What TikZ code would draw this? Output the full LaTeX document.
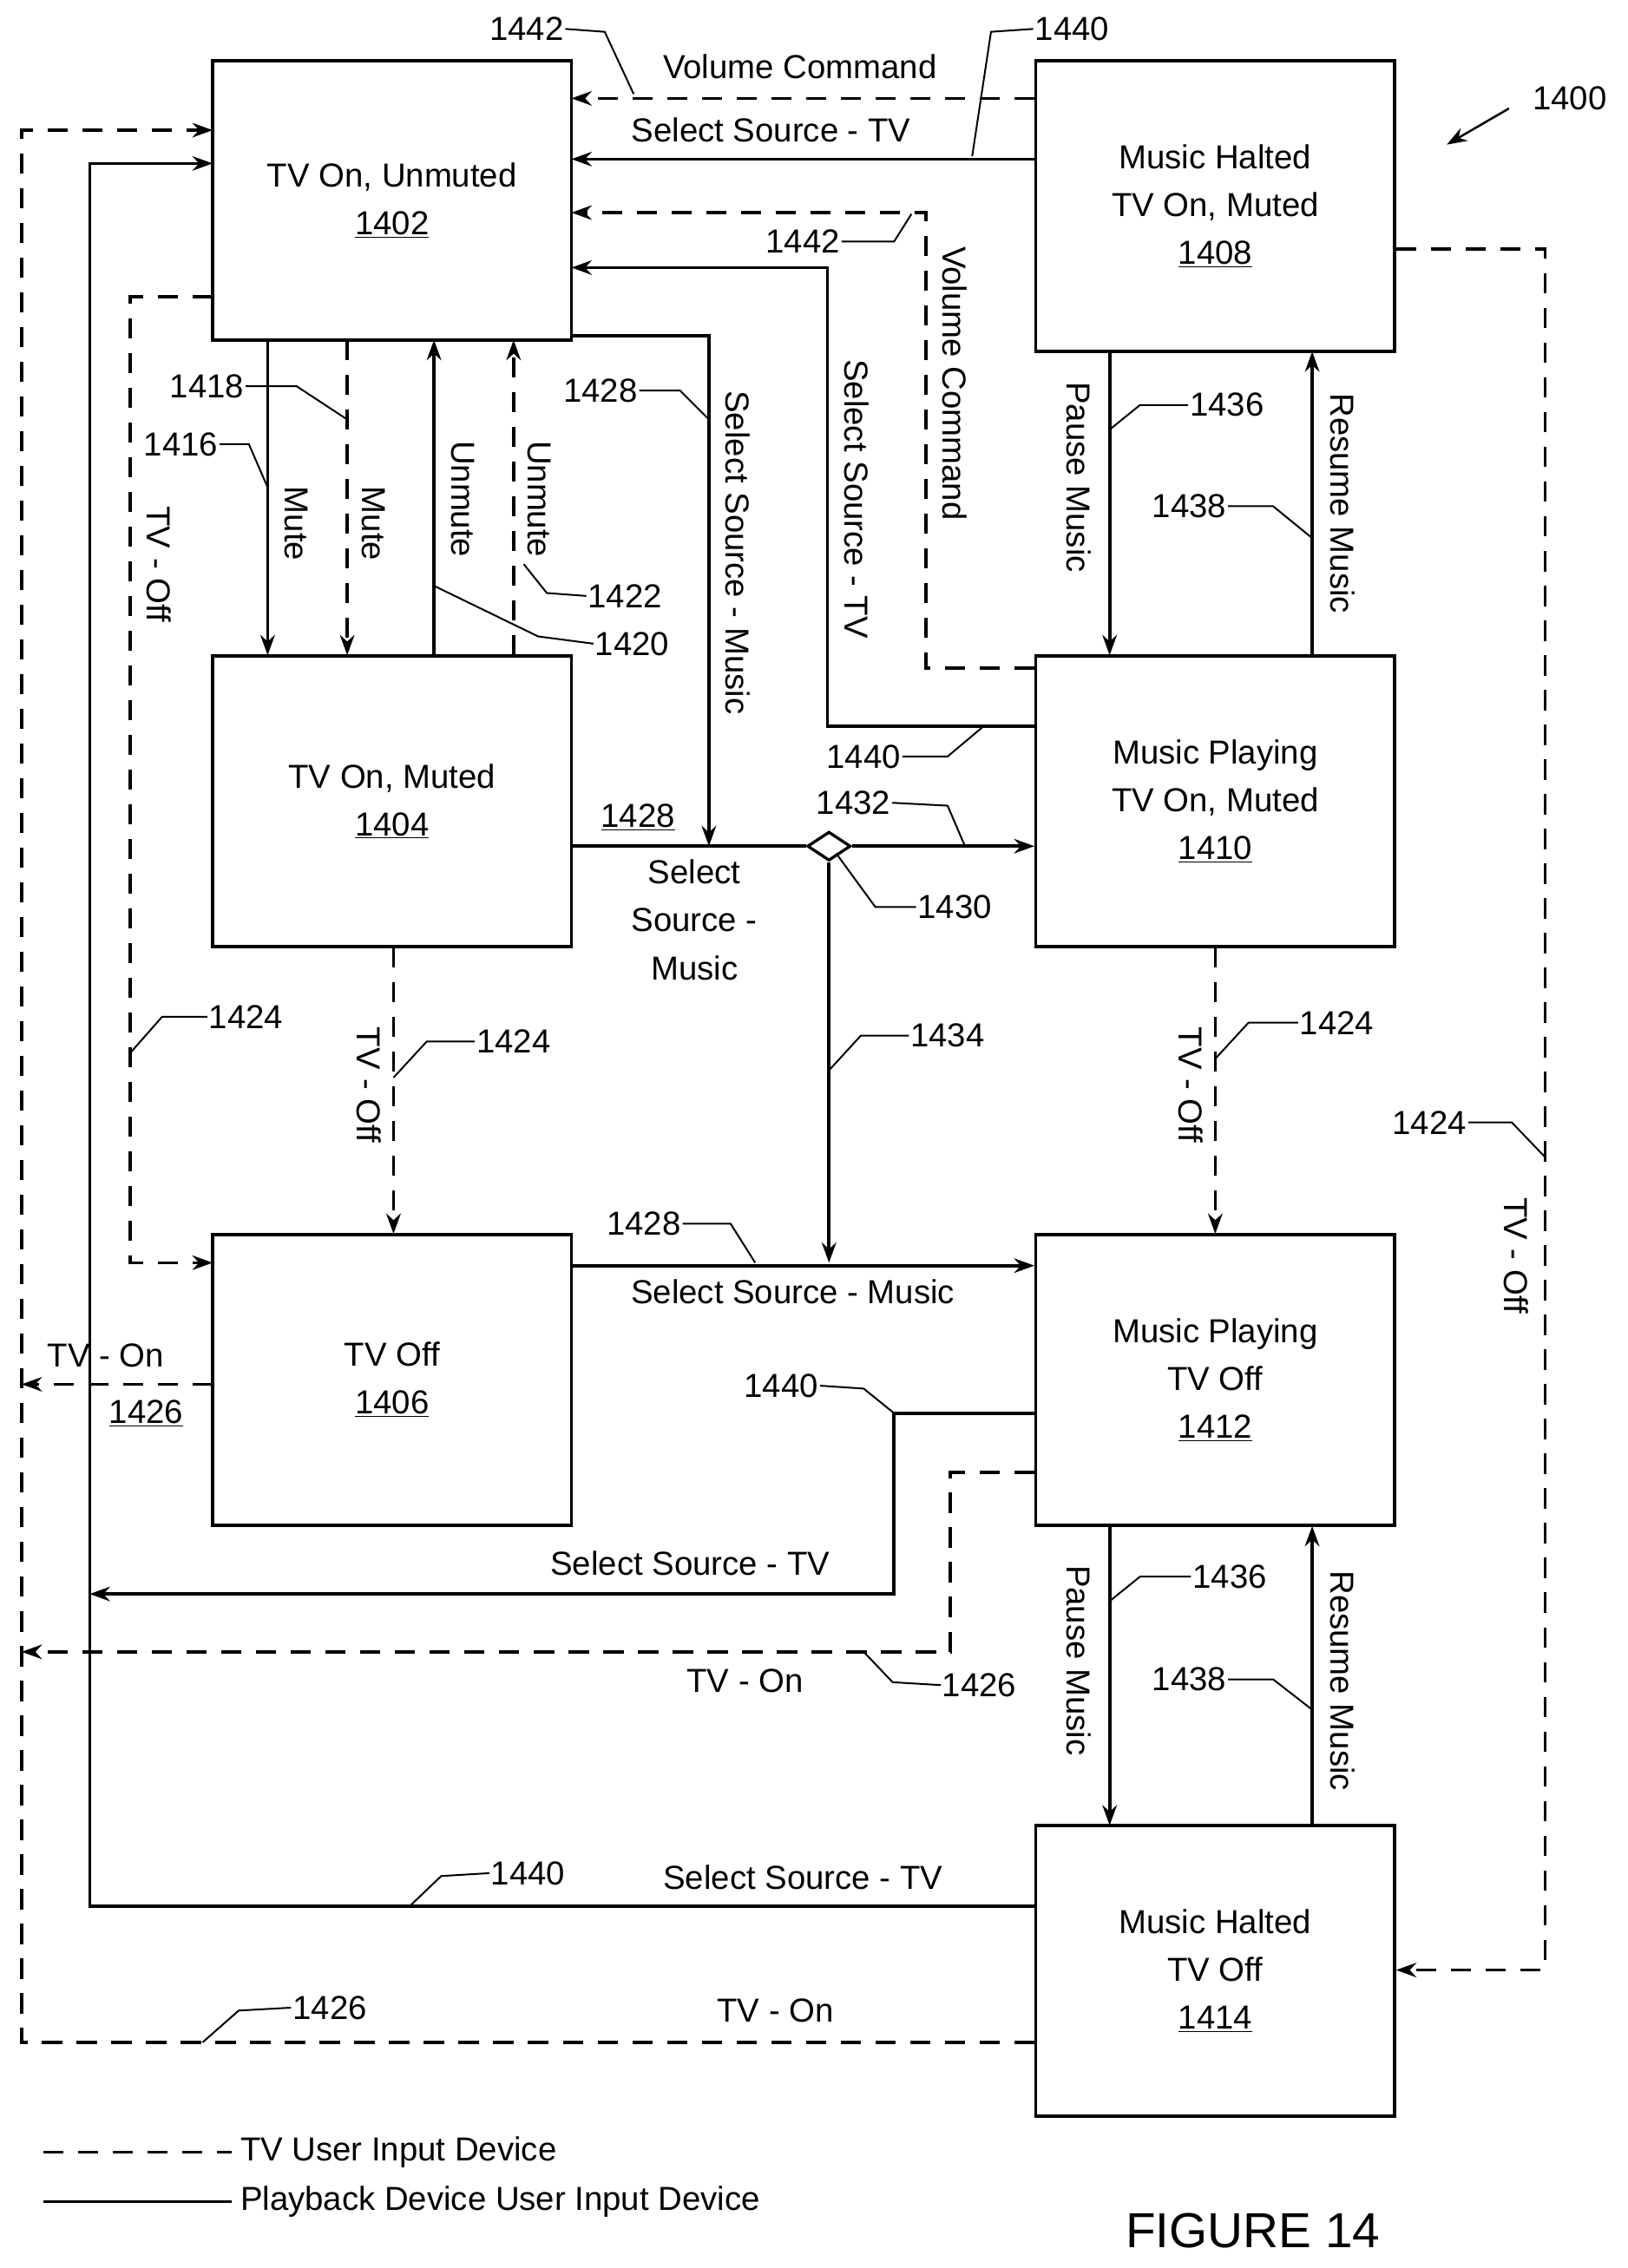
\documentclass[tikz,border=0pt]{standalone}
\usepackage{fontspec}
\setmainfont{Liberation Sans}
\usetikzlibrary{arrows.meta,shapes.geometric}
\begin{document}
\begin{tikzpicture}[x=1pt,y=-1pt,
 box/.style={draw,line width=2.2pt,minimum width=248pt,minimum height=201pt,inner sep=0,align=center,font=\fontsize{23}{33}\selectfont},
 sol/.style={line width=2.2pt,-{Stealth[length=14pt,width=10pt]}},
 so/.style={line width=2.2pt},
 das/.style={line width=2.2pt,dash pattern=on 14pt off 10pt,-{Stealth[length=14pt,width=10pt]}},
 da/.style={line width=2.2pt,dash pattern=on 14pt off 10pt},
 lead/.style={line width=1.2pt},
 t/.style={font=\fontsize{23}{27}\selectfont,inner sep=1pt},
 r/.style={font=\fontsize{23}{27}\selectfont,inner sep=1pt,rotate=-90},
 every node/.append style={font=\fontsize{23}{27}\selectfont}]
\useasboundingbox (0,0) rectangle (1125,1568);
\node[box,minimum height=193pt] (b1402) at (271,138.5) {TV On, Unmuted\\\underline{1402}};
\node[box] (b1408) at (840,142.5) {Music Halted\\TV On, Muted\\\underline{1408}};
\node[box] (b1404) at (271,554) {TV On, Muted\\\underline{1404}};
\node[box] (b1410) at (840,554) {Music Playing\\TV On, Muted\\\underline{1410}};
\node[box] (b1406) at (271,954) {TV Off\\\underline{1406}};
\node[box] (b1412) at (840,954) {Music Playing\\TV Off\\\underline{1412}};
\node[box] (b1414) at (840,1362.5) {Music Halted\\TV Off\\\underline{1414}};
% top connectors
\draw[das] (715,68) -- (395,68);
\node[t] at (553,46) {Volume Command};
\draw[sol] (715,110) -- (395,110);
\node[t] at (533,90) {Select Source - TV};
\draw[das] (715,462) -- (640,462) -- (640,147) -- (395,147);
\node[r] at (660,265) {Volume Command};
\draw[sol] (715,502) -- (572,502) -- (572,185) -- (395,185);
\node[r] at (592,345) {Select Source - TV};
\draw[sol] (395,232) -- (490,232) -- (490,585);
\node[r] at (510,382) {Select Source - Music};
% diamond
\node[draw,line width=2pt,diamond,shape aspect=1.6,minimum width=30pt,minimum height=20pt,inner sep=0] (dia) at (573,585) {};
\draw[so] (395,585) -- (dia.west);
\draw[sol] (dia.east) -- (715,585);
\draw[sol] (dia.south) -- (573,873);
\node[t] at (441,565) {\underline{1428}};
\node[t,align=center,font=\fontsize{23}{33}\selectfont] at (480,636) {Select\\Source -\\Music};
\draw[sol] (395,875) -- (715,875);
\node[t] at (548,893) {Select Source - Music};
% mute/unmute
\draw[sol] (185,235) -- (185,453); \node[r] at (205,362) {Mute};
\draw[das] (240,235) -- (240,453); \node[r] at (258,362) {Mute};
\draw[sol] (300,453) -- (300,235); \node[r] at (320,345) {Unmute};
\draw[das] (355,453) -- (355,235); \node[r] at (373,345) {Unmute};
% pause/resume
\draw[sol] (767,243) -- (767,453); \node[r] at (746,330) {Pause Music};
\draw[sol] (907,453) -- (907,243); \node[r] at (928,348) {Resume Music};
\draw[sol] (767,1055) -- (767,1262); \node[r] at (746,1148) {Pause Music};
\draw[sol] (907,1262) -- (907,1055); \node[r] at (928,1162) {Resume Music};
% TV off
\draw[das] (272,655) -- (272,853); \node[r] at (255,750) {TV - Off};
\draw[das] (840,655) -- (840,853); \node[r] at (823,750) {TV - Off};
\draw[das] (147,205) -- (90,205) -- (90,873) -- (147,873); \node[r] at (110,390) {TV - Off};
\draw[das] (965,172) -- (1068,172) -- (1068,1362) -- (965,1362); \node[r] at (1048,868) {TV - Off};
% TV on
\draw[das] (147,957) -- (15,957);
\node[t,fill=white] at (73,937) {TV - On};
\node[t] at (101,977) {\underline{1426}};
\draw[das] (715,1412) -- (15,1412) -- (15,90) -- (147,90);
\node[t] at (536,1390) {TV - On};
\draw[sol] (715,1318) -- (62,1318) -- (62,113) -- (147,113);
\node[t] at (555,1298) {Select Source - TV};
\draw[sol] (715,977) -- (618,977) -- (618,1102) -- (62,1102);
\node[t] at (477,1081) {Select Source - TV};
\draw[das] (715,1018) -- (657,1018) -- (657,1142) -- (15,1142);
\node[t] at (515,1162) {TV - On};
% reference labels
\node[t] (l1) at (364,20) {1442}; \draw[lead] (l1.east) -- (418,22) -- (438,65);
\node[t] (l2) at (741,20) {1440}; \draw[lead] (l2.west) -- (685,22) -- (672,108);
\node[t] (l3) at (555,167) {1442}; \draw[lead] (l3.east) -- (618,167) -- (630,148);
\node[t] (l4) at (597,523) {1440}; \draw[lead] (l4.east) -- (655,523) -- (680,502);
\node[t] (l5) at (415,270) {1428}; \draw[lead] (l5.east) -- (470,270) -- (490,290);
\node[t] (l6) at (590,555) {1432}; \draw[lead] (l6.east) -- (655,557) -- (667,585);
\node[t] (l7) at (660,627) {1430}; \draw[lead] (l7.west) -- (605,627) -- (578,590);
\node[t] (l8) at (655,716) {1434}; \draw[lead] (l8.west) -- (595,716) -- (573,740);
\node[t] (l9) at (445,846) {1428}; \draw[lead] (l9.east) -- (505,846) -- (522,873);
\node[t] (l10) at (125,307) {1416}; \draw[lead] (l10.east) -- (172,307) -- (185,337);
\node[t] (l11) at (143,267) {1418}; \draw[lead] (l11.east) -- (205,267) -- (240,290);
\node[t] (l12) at (437,445) {1420}; \draw[lead] (l12.west) -- (372,440) -- (300,405);
\node[t] (l13) at (432,412) {1422}; \draw[lead] (l13.west) -- (378,410) -- (362,390);
\node[t] (l14) at (848,280) {1436}; \draw[lead] (l14.west) -- (788,280) -- (767,297);
\node[t] (l15) at (822,350) {1438}; \draw[lead] (l15.east) -- (880,350) -- (907,372);
\node[t] (l16) at (850,1090) {1436}; \draw[lead] (l16.west) -- (788,1090) -- (767,1107);
\node[t] (l17) at (822,1161) {1438}; \draw[lead] (l17.east) -- (880,1161) -- (907,1182);
\node[t] (l18) at (355,720) {1424}; \draw[lead] (l18.west) -- (295,720) -- (272,745);
\node[t] (l19) at (924,707) {1424}; \draw[lead] (l19.west) -- (863,707) -- (840,732);
\node[t] (l20) at (170,703) {1424}; \draw[lead] (l20.west) -- (112,703) -- (90,728);
\node[t] (l21) at (988,776) {1424}; \draw[lead] (l21.east) -- (1045,776) -- (1068,800);
\node[t] (l22) at (228,1388) {1426}; \draw[lead] (l22.west) -- (165,1390) -- (140,1412);
\node[t] (l23) at (365,1295) {1440}; \draw[lead] (l23.west) -- (305,1297) -- (283,1318);
\node[t] (l24) at (540,958) {1440}; \draw[lead] (l24.east) -- (597,960) -- (618,977);
\node[t] (l25) at (677,1165) {1426}; \draw[lead] (l25.west) -- (617,1163) -- (597,1142);
\node[t] (l26) at (1085,68) {1400};
\draw[line width=1.5pt,-{Stealth[length=14pt,width=10pt]}] (1043,75) -- (1000,100);
% legend
\coordinate (g1) at (30,1488); \coordinate (g2) at (160,1488);
\draw[da] (g1) -- (g2); \node[t,anchor=west] at (165,1488) {TV User Input Device};
\coordinate (g3) at (30,1522); \coordinate (g4) at (160,1522);
\draw[so] (g3) -- (g4); \node[t,anchor=west] at (165,1522) {Playback Device User Input Device};
\node[font=\fontsize{34}{40}\selectfont] at (866,1542) {FIGURE 14};
\end{tikzpicture}
\end{document}
